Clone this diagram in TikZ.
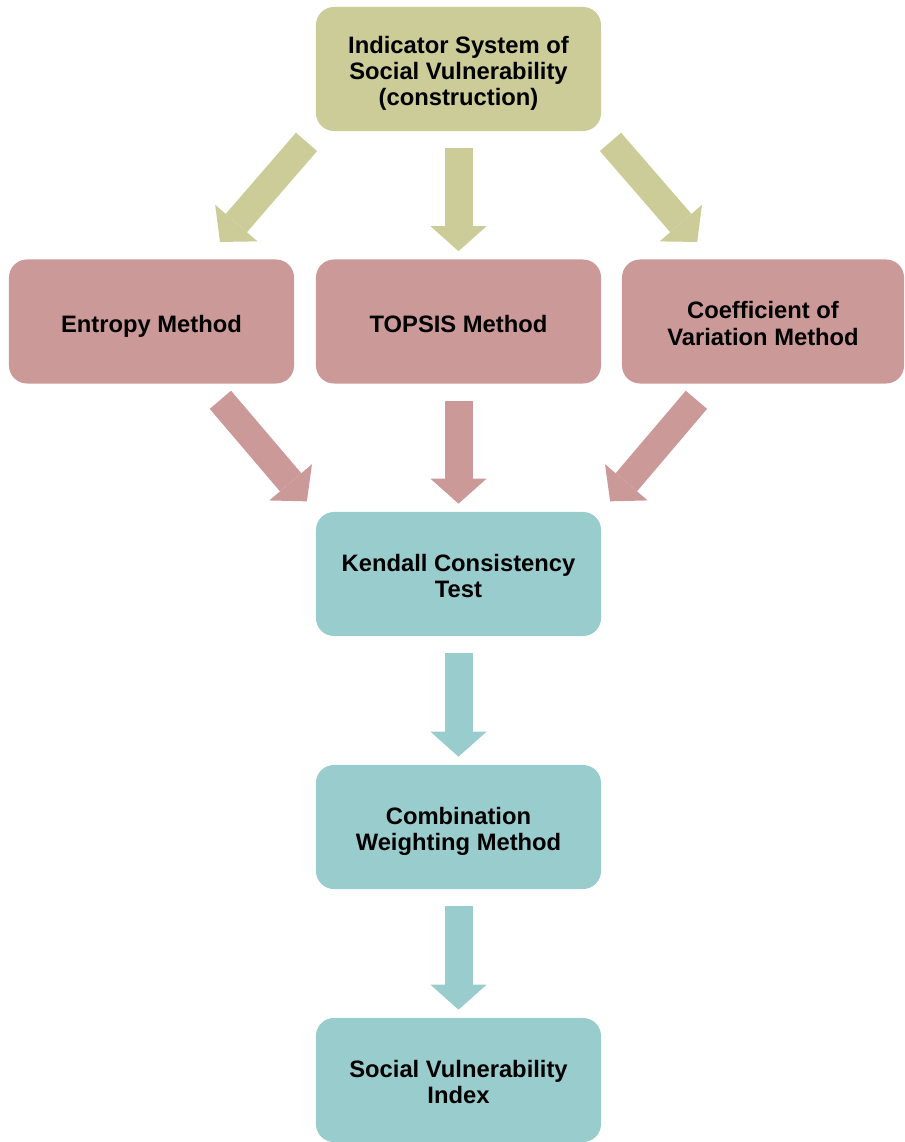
\documentclass[tikz,border=0pt]{standalone}
\usepackage{fontspec}
\setmainfont{Liberation Sans}
\usetikzlibrary{arrows.meta,calc}
\newcommand{\boxtext}[1]{\rule{0pt}{18.6pt}#1\rule[-3.6pt]{0pt}{3.6pt}}

\begin{document}
\begin{tikzpicture}[x=0.025cm, y=-0.025cm,
  box/.style={rounded corners=0.45cm, minimum width=7.125cm, minimum height=3.1cm,
    inner sep=0pt, align=center, font=\bfseries\fontsize{16.9}{18.6}\selectfont},
  blk/.style={line width=0.7cm, -{Triangle[length=0.625cm, width=1.4cm, line width=0pt]}}]
\definecolor{cind}{HTML}{CCCC99}
\definecolor{cmeth}{HTML}{CC9999}
\definecolor{ctest}{HTML}{99CCCC}
\useasboundingbox (0,0) rectangle (904,1142);
% indicator system
\node[box, fill=cind] (ind) at (458.5,69) {\boxtext{Indicator System of\\Social Vulnerability\\(construction)}};
% three weighting methods
\node[box, fill=cmeth] (entropy) at (151.5,321.5) {\boxtext{Entropy Method}};
\node[box, fill=cmeth] (topsis) at (458.5,321.5) {\boxtext{TOPSIS Method}};
\node[box, fill=cmeth, minimum width=7.05cm] (coef) at (763,321.5) {\boxtext{Coefficient of\\Variation Method}};
% test, combination, index
\node[box, fill=ctest] (kendall) at (458.5,574) {\boxtext{Kendall Consistency\\Test}};
\node[box, fill=ctest] (comb) at (458.5,827) {\boxtext{Combination\\Weighting Method}};
\node[box, fill=ctest] (svi) at (458.5,1080) {\boxtext{Social Vulnerability\\Index}};
% arrows out of the indicator system
\draw[blk, cind, shorten <=0.35cm, shorten >=0.57cm] (ind.south west) -- ($(entropy.north)!0.375!(entropy.north east)$);
\draw[blk, cind, shorten <=0.425cm, shorten >=0.2cm] (ind) -- (topsis);
\draw[blk, cind, shorten <=0.35cm, shorten >=0.57cm] (ind.south east) -- ($(coef.north)!0.36!(coef.north west)$);
% arrows into the test
\draw[blk, cmeth, shorten <=0.525cm, shorten >=0.34cm] ($(entropy.south)!0.387!(entropy.south east)$) -- (kendall.north west);
\draw[blk, cmeth, shorten <=0.425cm, shorten >=0.2cm] (topsis) -- (kendall);
\draw[blk, cmeth, shorten <=0.525cm, shorten >=0.34cm] ($(coef.south)!0.375!(coef.south west)$) -- (kendall.north east);
% down the chain
\foreach \a/\b in {kendall/comb, comb/svi} {
  \draw[blk, ctest, shorten <=0.425cm, shorten >=0.2cm] (\a) -- (\b);
}
\end{tikzpicture}
\end{document}
